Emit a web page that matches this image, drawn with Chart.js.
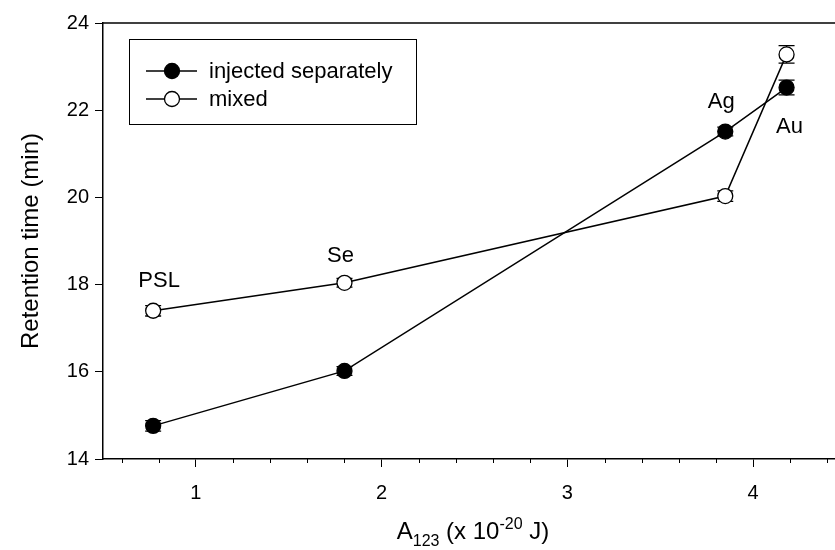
<!DOCTYPE html>
<html>
<head>
<meta charset="utf-8">
<script src="https://cdn.jsdelivr.net/npm/chart.js@4.4.1/dist/chart.umd.min.js"></script>
<style>
html, body { margin: 0; padding: 0; overflow: hidden; background: #fff; }
#wrap { width: 860px; height: 550px; position: relative; }
</style>
</head>
<body>
<div id="wrap"><canvas id="myChart"></canvas></div>
<script>
// values
var names = ["PSL", "Se", "Ag", "Au"];
var hamaker = [0.77, 1.80, 3.85, 4.18];
var separately = [14.76, 16.02, 21.51, 22.52];
var separatelyErr = [0.12, 0.1, 0.1, 0.17];
var mixed = [17.40, 18.04, 20.03, 23.28];
var mixedErr = [0.12, 0.1, 0.12, 0.2];
var xTicks = [1, 2, 3, 4];
var yTicks = [14, 16, 18, 20, 22, 24];
var seriesNames = ["injected separately", "mixed"];

var FONT = "'Liberation Sans', Arial, Helvetica, sans-serif";

function pts(ys) {
    return hamaker.map(function (x, i) { return { x: x, y: ys[i] }; });
}

var extras = {
    id: 'extras',
    beforeDatasetsDraw: function (chart) {
        var ctx = chart.ctx, xs = chart.scales.x, ys = chart.scales.y;
        ctx.save();
        ctx.strokeStyle = '#000';
        ctx.lineWidth = 1.3;
        [[separately, separatelyErr], [mixed, mixedErr]].forEach(function (p) {
            for (var i = 0; i < hamaker.length; i++) {
                var px = xs.getPixelForValue(hamaker[i]);
                var y1 = ys.getPixelForValue(p[0][i] - p[1][i]);
                var y2 = ys.getPixelForValue(p[0][i] + p[1][i]);
                ctx.beginPath();
                ctx.moveTo(px, y1); ctx.lineTo(px, y2);
                ctx.moveTo(px - 8, y1); ctx.lineTo(px + 8, y1);
                ctx.moveTo(px - 8, y2); ctx.lineTo(px + 8, y2);
                ctx.stroke();
            }
        });
        ctx.restore();
    },
    afterDraw: function (chart) {
        var ctx = chart.ctx, xs = chart.scales.x, ys = chart.scales.y, a = chart.chartArea;
        ctx.save();
        ctx.strokeStyle = '#000';
        ctx.fillStyle = '#000';

        // top frame
        ctx.lineWidth = 1.5;
        ctx.beginPath();
        ctx.moveTo(a.left, a.top); ctx.lineTo(a.right, a.top);
        ctx.stroke();

        // minor x ticks
        ctx.lineWidth = 1;
        for (var k = 6; k <= 44; k += 2) {
            if (k % 10 == 0) continue;
            var mx = Math.round(xs.getPixelForValue(k / 10)) + 0.5;
            ctx.beginPath();
            ctx.moveTo(mx, a.bottom); ctx.lineTo(mx, a.bottom + 4);
            ctx.stroke();
        }

        // point names
        ctx.font = '22px ' + FONT;
        ctx.textAlign = 'center';
        ctx.textBaseline = 'alphabetic';
        var offs = [[mixed, 6, -24], [mixed, -4, -21], [separately, -4, -24], [separately, 3, 45]];
        for (var i = 0; i < names.length; i++) {
            var px = xs.getPixelForValue(hamaker[i]) + offs[i][1];
            var py = ys.getPixelForValue(offs[i][0][i]) + offs[i][2];
            ctx.fillText(names[i], px, py);
        }

        // legend
        ctx.lineWidth = 1;
        ctx.strokeRect(129.5, 39.5, 287, 85);
        var rows = [71, 99];
        var fills = ['#000', '#fff'];
        ctx.textAlign = 'left';
        ctx.textBaseline = 'middle';
        for (var r = 0; r < 2; r++) {
            ctx.lineWidth = 1.5;
            ctx.beginPath();
            ctx.moveTo(146, rows[r]); ctx.lineTo(197, rows[r]);
            ctx.stroke();
            ctx.beginPath();
            ctx.arc(172, rows[r], 7.5, 0, Math.PI * 2);
            ctx.fillStyle = fills[r];
            ctx.fill();
            ctx.lineWidth = 1.3;
            ctx.stroke();
            ctx.fillStyle = '#000';
            ctx.fillText(seriesNames[r], 209, rows[r] + 1);
        }

        // y title
        ctx.save();
        ctx.translate(31, (a.top + a.bottom) / 2);
        ctx.rotate(-Math.PI / 2);
        ctx.textAlign = 'center';
        ctx.textBaseline = 'middle';
        ctx.font = '24px ' + FONT;
        ctx.fillText('Retention time (min)', 0, 0);
        ctx.restore();

        // x title with sub/superscript
        var parts = [['A', 24, 0], ['123', 16, 7], [' (x 10', 24, 0], ['-20', 16, -10], [' J)', 24, 0]];
        var w = 0;
        parts.forEach(function (p) { ctx.font = p[1] + 'px ' + FONT; w += ctx.measureText(p[0]).width; });
        var x0 = 473 - w / 2;
        ctx.textAlign = 'left';
        ctx.textBaseline = 'alphabetic';
        parts.forEach(function (p) {
            ctx.font = p[1] + 'px ' + FONT;
            ctx.fillText(p[0], x0, 539 + p[2]);
            x0 += ctx.measureText(p[0]).width;
        });
        ctx.restore();
    }
};

var ctx = document.getElementById("myChart");
var myChart = new Chart(ctx, {
    type: 'scatter',
    data: {
        datasets: [{
            label: seriesNames[0],
            data: pts(separately),
            showLine: true,
            borderColor: '#000',
            borderWidth: 1.5,
            pointRadius: 7.5,
            pointBorderWidth: 1.3,
            pointBackgroundColor: '#000',
            pointBorderColor: '#000'
        }, {
            label: seriesNames[1],
            data: pts(mixed),
            showLine: true,
            borderColor: '#000',
            borderWidth: 1.5,
            pointRadius: 7.5,
            pointBorderWidth: 1.3,
            pointBackgroundColor: '#fff',
            pointBorderColor: '#000'
        }]
    },
    options: {
        responsive: true,
        maintainAspectRatio: false,
        animation: false,
        layout: { padding: { left: 0, top: 23, right: 14, bottom: 0 } },
        plugins: { legend: { display: false }, tooltip: { enabled: false } },
        scales: {
            x: {
                type: 'linear',
                min: 0.5,
                max: 4.5,
                afterBuildTicks: function (s) { s.ticks = xTicks.map(function (v) { return { value: v }; }); },
                afterFit: function (s) { s.height = 91; },
                grid: { drawOnChartArea: false, drawTicks: true, tickLength: 8, tickColor: '#000', tickWidth: 1 },
                border: { display: true, color: '#000', width: 1.5 },
                ticks: { color: '#000', font: { size: 20, family: FONT }, padding: 14, maxRotation: 0 }
            },
            y: {
                min: 14,
                max: 24,
                afterBuildTicks: function (s) { s.ticks = yTicks.map(function (v) { return { value: v }; }); },
                afterFit: function (s) { s.width = 103; },
                grid: { drawOnChartArea: false, drawTicks: true, tickLength: 8, tickColor: '#000', tickWidth: 1 },
                border: { display: true, color: '#000', width: 1.5 },
                ticks: { color: '#000', font: { size: 20, family: FONT }, padding: 6 }
            }
        }
    },
    plugins: [extras]
});
</script>
</body>
</html>
